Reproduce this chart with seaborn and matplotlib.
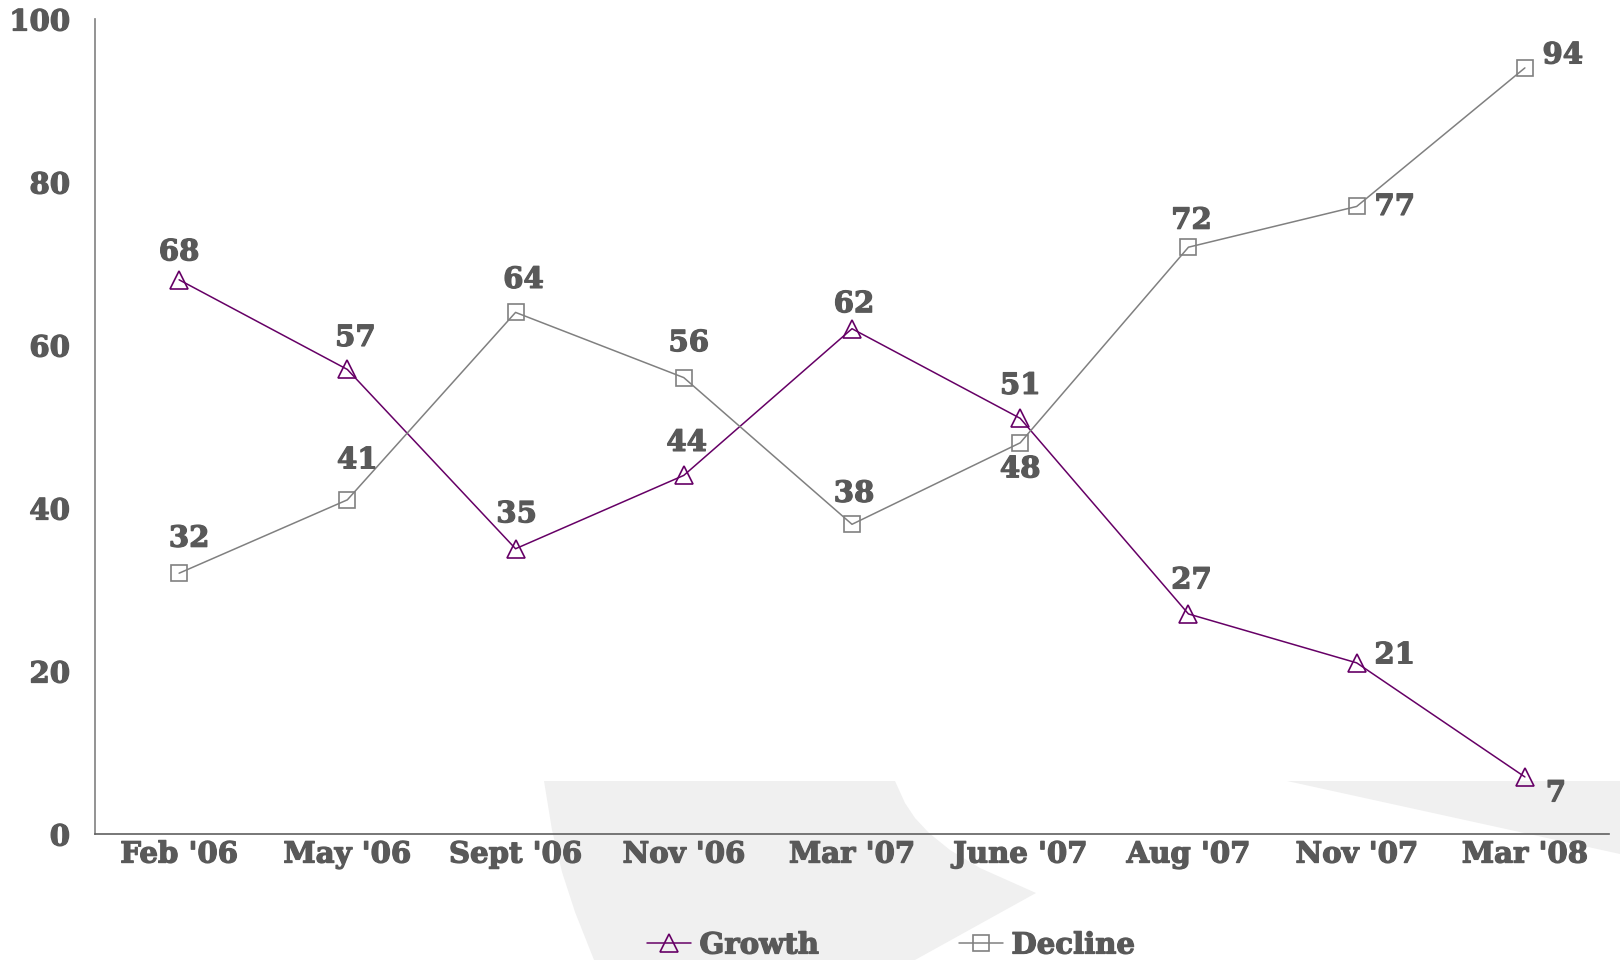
import matplotlib.pyplot as plt
import matplotlib.patheffects as pe
import seaborn as sns
import pandas as pd
from matplotlib.patches import Polygon

categories = ["Feb '06", "May '06", "Sept '06", "Nov '06", "Mar '07",
              "June '07", "Aug '07", "Nov '07", "Mar '08"]
growth = [68, 57, 35, 44, 62, 51, 27, 21, 7]
decline = [32, 41, 64, 56, 38, 48, 72, 77, 94]

# label offsets in pixels (dx, dy) for each point
growth_off = [(0, 28), (8, 32), (1, 35), (3, 33), (2, 25), (0, 33), (3, 34), (38, 8), (31, -16)]
decline_off = [(10, 35), (10, 40), (8, 33), (5, 35), (2, 31), (0, -26), (3, 27), (38, 0), (38, 13)]

TEXT = "#595959"
PURPLE = "#660066"
GREY = "#808080"
FS = 21
heavy = [pe.withStroke(linewidth=0.9, foreground=TEXT)]

sns.set_style("white")
plt.rcParams["font.family"] = ["DejaVu Serif"]
plt.rcParams["font.weight"] = "bold"

df = pd.DataFrame({"pos": range(len(categories)), "Growth": growth, "Decline": decline})

W, H = 1620, 960
fig = plt.figure(figsize=(16.2, 9.6), dpi=100)
ax = fig.add_axes([95 / W, 1 - 834 / H, (1609 - 95) / W, (834 - 19) / H])
ax.patch.set_alpha(0)

# light grey watermark shapes behind the plot
def px(pts):
    return [(x / W, 1 - y / H) for x, y in pts]

shape1 = [(544, 781), (895, 781), (905, 803), (915, 818), (929, 833), (950, 850),
          (980, 868), (1036, 893), (915, 960), (594, 960), (575, 912), (562, 872), (552, 830)]
shape2 = [(1287, 781), (1620, 781), (1620, 854)]
for s in (shape1, shape2):
    fig.add_artist(Polygon(px(s), closed=True, transform=fig.transFigure,
                           facecolor="#f0f0f0", edgecolor="none", zorder=0))

sns.lineplot(data=df, x="pos", y="Growth", ax=ax, color=PURPLE, linewidth=1.1,
             marker="^", markersize=13, markerfacecolor="none",
             markeredgecolor=PURPLE, markeredgewidth=1.2, label="Growth")
sns.lineplot(data=df, x="pos", y="Decline", ax=ax, color=GREY, linewidth=1.1,
             marker="s", markersize=12, markerfacecolor="none",
             markeredgecolor=GREY, markeredgewidth=1.2, label="Decline")

for vals, offs in ((growth, growth_off), (decline, decline_off)):
    for i, (v, (dx, dy)) in enumerate(zip(vals, offs)):
        ax.annotate(str(v), (i, v), xytext=(dx, dy), textcoords="offset pixels",
                    ha="center", va="center", fontsize=FS, fontweight="bold", color=TEXT,
                    path_effects=heavy)

ax.set_xlim(-0.5, len(categories) - 0.5)
ax.set_ylim(0, 100)
ax.set_yticks(range(0, 101, 20))
ax.set_xticks([i - 0.5 for i in range(len(categories) + 1)])
ax.set_xticklabels([])
ax.set_xticks(range(len(categories)), minor=True)
ax.set_xticklabels(categories, minor=True)
ax.tick_params(axis="x", which="major", length=9, width=1.2, color="#606060", direction="out")
ax.tick_params(axis="x", which="minor", length=0, pad=4, labelsize=FS, labelcolor=TEXT)
ax.tick_params(axis="y", length=10, width=1.2, color=GREY, direction="out", pad=8,
               labelsize=FS, labelcolor=TEXT)
ax.set_xlabel("")
ax.set_ylabel("")
for t in ax.get_xticklabels(minor=True) + ax.get_yticklabels():
    t.set_path_effects(heavy)

sns.despine(ax=ax)
ax.spines["left"].set_color(GREY)
ax.spines["left"].set_linewidth(1.2)
ax.spines["bottom"].set_color("#606060")
ax.spines["bottom"].set_linewidth(1.2)

ax.legend_.remove()
handles, labels = ax.get_legend_handles_labels()
leg = fig.legend(handles, labels, loc="center", bbox_to_anchor=(0.55, 1 - 945 / H), ncol=2,
                 frameon=False, fontsize=FS, handlelength=1.5, handletextpad=0.3,
                 columnspacing=4.8, labelcolor=TEXT)
for t in leg.get_texts():
    t.set_path_effects(heavy)

fig.savefig("out.png", dpi=100)
